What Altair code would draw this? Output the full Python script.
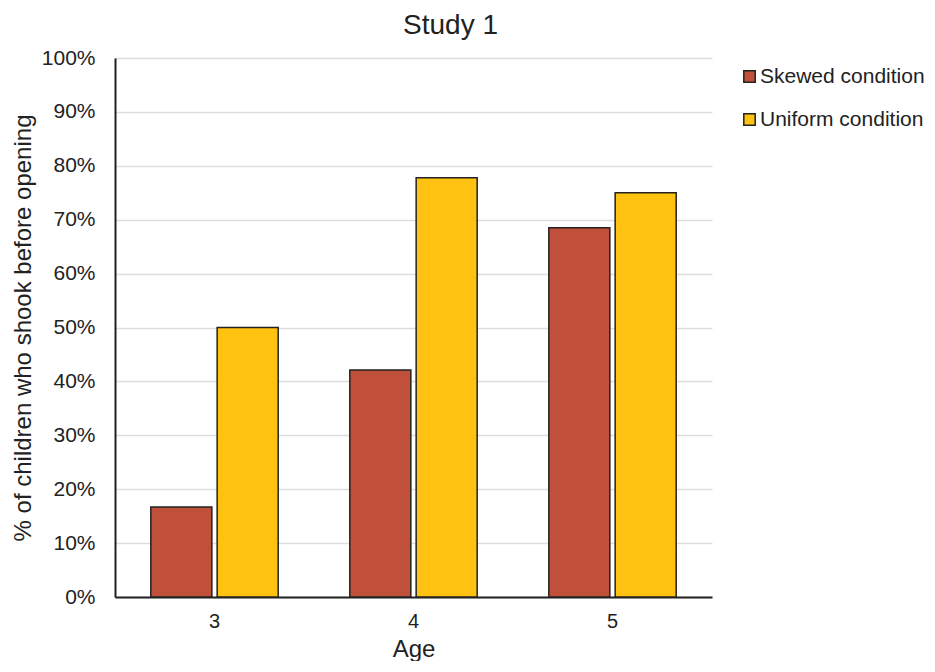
import altair as alt
import pandas as pd

ages = ["3", "4", "5"]
skewed = [0.167, 0.421, 0.685]
uniform = [0.50, 0.778, 0.75]
conditions = ["Skewed condition", "Uniform condition"]
colors = ["#C0503A", "#FFC211"]

rows = []
for a, s, u in zip(ages, skewed, uniform):
    rows.append({"Age": a, "Condition": conditions[0], "Value": s})
    rows.append({"Age": a, "Condition": conditions[1], "Value": u})
df = pd.DataFrame(rows)

FONT = "Liberation Sans"

chart = alt.Chart(df).mark_bar(stroke="#222222", strokeWidth=1.5).encode(
    x=alt.X("Age:N", title="Age",
            scale=alt.Scale(paddingInner=0.36, paddingOuter=0.18),
            axis=alt.Axis(labelAngle=0, labelFontSize=20, titleFontSize=24,
                          labelPadding=14, titlePadding=6, ticks=False,
                          domainColor="#222222", domainWidth=2,
                          labelColor="#222222", titleColor="#222222",
                          titleFontWeight="normal")),
    xOffset=alt.XOffset("Condition:N", scale=alt.Scale(paddingInner=0.08)),
    y=alt.Y("Value:Q", title="% of children who shook before opening",
            scale=alt.Scale(domain=[0, 1]),
            axis=alt.Axis(format=".0%", values=[i / 10 for i in range(11)],
                          labelFontSize=21, titleFontSize=24, ticks=False,
                          labelPadding=20, titlePadding=6,
                          domainColor="#222222", domainWidth=2,
                          gridColor="#dddddd", gridWidth=1.5,
                          labelColor="#222222", titleColor="#222222",
                          titleFontWeight="normal")),
    color=alt.Color("Condition:N", scale=alt.Scale(domain=conditions, range=colors),
                    legend=alt.Legend(title=None, orient="none", legendX=624, legendY=8,
                                      symbolType="square", symbolSize=130,
                                      symbolStrokeColor="#222222", symbolStrokeWidth=1.5,
                                      labelFontSize=21, labelColor="#222222",
                                      labelLimit=400,
                                      rowPadding=21, labelOffset=0,
                                      symbolOpacity=1)),
).properties(
    width=597, height=539,
    padding={"left": 3, "top": 4, "right": 0, "bottom": 0},
    title=alt.TitleParams("Study 1", fontSize=28, font=FONT, fontWeight="normal",
                          color="#222222", anchor="middle", dx=37, offset=7),
).configure(font=FONT).configure_view(stroke=None)

chart.save("out.html", embed_options={"renderer": "svg", "actions": False})
